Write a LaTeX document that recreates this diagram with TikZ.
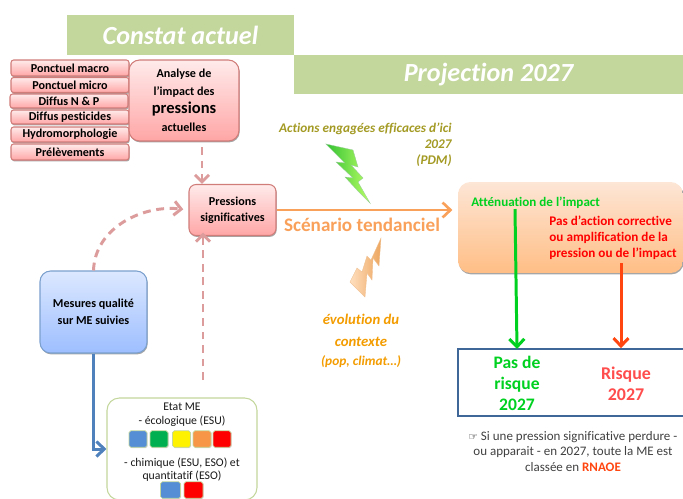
\documentclass[tikz,border=0pt]{standalone}
\usepackage{fontspec}
\setmainfont{Carlito}[Ligatures=NoCommon]
\newfontfamily\symfont{DejaVu Sans}
\usetikzlibrary{arrows.meta, shadows}

\definecolor{bannergreen}{HTML}{C3D69B}
\definecolor{pressline}{HTML}{DD9C9C}
\definecolor{pressborder}{HTML}{C0504D}
\definecolor{measureblue}{HTML}{4F81BD}
\definecolor{measuretop}{HTML}{DCE8FF}
\definecolor{measurelow}{HTML}{9DBEFF}
\definecolor{impacttop}{HTML}{FDE6D6}
\definecolor{impactlow}{HTML}{FFBE85}
\definecolor{scenario}{HTML}{F9A05A}
\definecolor{okgreen}{HTML}{00D020}
\definecolor{riskred}{HTML}{FF4510}
\definecolor{olivetext}{HTML}{A39A24}
\definecolor{contexttext}{HTML}{F39C00}
\definecolor{notetext}{HTML}{404040}
\definecolor{keyblue}{HTML}{558ED5}
\definecolor{keygreen}{HTML}{00B050}
\definecolor{keyorange}{HTML}{F79646}

\tikzset{
    banner/.style={fill=bannergreen, text=white, inner sep=0pt, font=\fontsize{14.9}{18}\selectfont\bfseries\itshape},
    softshadow/.style={drop shadow={shadow xshift=0.4pt, shadow yshift=-0.8pt, opacity=0.35, fill=black}},
    pressbox/.style={draw=pressborder!75, semithick, top color=red!8, bottom color=red!35, softshadow, inner sep=0pt, align=center, rounded corners=1.5pt, font=\fontsize{6.9}{8}\selectfont\bfseries},
    bigpress/.style={pressbox, rounded corners=6pt},
    measurebox/.style={draw=measureblue!75, semithick, top color=measuretop, bottom color=measurelow, softshadow, rounded corners=6pt, inner sep=0pt, align=center, font=\fontsize{6.9}{9.6}\selectfont\bfseries},
    colourkey/.style={draw=bannergreen, rounded corners=1pt, inner sep=0pt, minimum width=0.36cm, minimum height=0.33cm, drop shadow={shadow xshift=0.4pt, shadow yshift=-0.5pt, opacity=0.3}},
    pressarrow/.style={pressline, line width=1.7pt, dash pattern=on 4.5pt off 3.2pt, -{Straight Barb[length=4pt, width=8pt]}},
    flowarrow/.style={line width=1.7pt, -{Straight Barb[length=4.5pt, width=8.5pt]}},
}

\begin{document}
\begin{tikzpicture}[x=0.02cm, y=-0.02cm]
    \useasboundingbox (0, 0) rectangle (683, 498);
    \clip (0, 0) rectangle (683, 498);

    % Title bands
    \node[banner, minimum width=4.54cm, minimum height=0.8cm] (constat) at (180.5, 35) {Constat actuel};
    \node[banner, minimum width=7.78cm, minimum height=0.78cm, text height=11pt, text depth=3pt] (projection) at (488.5, 74.5) {Projection 2027};

    % Pressure list
    \node[pressbox, minimum width=2.36cm, minimum height=0.32cm] (macro) at (70, 68) {Ponctuel macro};
    \node[pressbox, minimum width=2.36cm, minimum height=0.3cm] (micro) at (70, 85) {Ponctuel micro};
    \node[pressbox, minimum width=2.36cm, minimum height=0.28cm] (azote) at (69, 101) {Diffus N \& P};
    \node[pressbox, minimum width=2.36cm, minimum height=0.28cm] (pesticides) at (70, 117) {Diffus pesticides};
    \node[pressbox, minimum width=2.36cm, minimum height=0.3cm] (hydro) at (70, 134.5) {Hydromorphologie};
    \node[pressbox, minimum width=2.36cm, minimum height=0.32cm] (prelev) at (70, 152) {Prélèvements};

    % Analysis and significant pressures
    \node[bigpress, minimum width=2.2cm, minimum height=1.62cm] (analyse) at (184, 100.5) {Analyse de\\[2.2pt]l’impact des\\[2.4pt]{\fontsize{9.4}{10}\selectfont pressions}\\[2.4pt]actuelles};
    \node[bigpress, rounded corners=4pt, minimum width=1.74cm, minimum height=1.02cm] (pressions) at (232.5, 210) {Pressions\\[1.2pt]significatives};

    % Measures and state of the water body
    \node[measurebox, minimum width=2.14cm, minimum height=1.64cm] (mesures) at (93.5, 312) {Mesures qualité\\sur ME suivies};
    \node[draw=bannergreen, semithick, fill=white, rounded corners=7pt, minimum width=3cm, minimum height=2.04cm] (etat) at (182, 449) {};
    \node[inner sep=0pt, align=center, font=\fontsize{6.7}{7.9}\selectfont, text=black!90] (etattop) at (182, 415) {Etat ME\\- écologique (ESU)};
    \node[inner sep=0pt, align=center, font=\fontsize{6.7}{7.7}\selectfont, text=black!90] (etatlow) at (182, 469.5) {- chimique (ESU, ESO) et\\quantitatif (ESO)};

    % Colour keys
    \node[colourkey, fill=keyblue] (keya) at (138, 439) {};
    \node[colourkey, fill=keygreen] (keyb) at (159, 439) {};
    \node[colourkey, fill=yellow] (keyc) at (181.5, 439) {};
    \node[colourkey, fill=keyorange] (keyd) at (202, 439) {};
    \node[colourkey, fill=red] (keye) at (222, 439) {};
    \node[colourkey, fill=keyblue, minimum width=0.4cm] (keyf) at (170.5, 490) {};
    \node[colourkey, fill=red, minimum width=0.38cm] (keyg) at (193.5, 490) {};

    % Dashed links to the significant pressures
    \coordinate (analyseout) at (202, 147);
    \coordinate (etatout) at (203, 380);
    \draw[pressarrow] (analyseout) -- (analyseout |- pressions.north);
    \draw[pressarrow] (etatout) -- ([yshift=2pt] etatout |- pressions.south);
    \draw[pressarrow, shorten >=3pt] (mesures.north) to[out=88, in=173] (pressions.west);

    % Measures feed the state
    \draw[flowarrow, measureblue] (mesures.south) |- (etat.west);

    % Trend scenario
    \node[draw=none, top color=impacttop, bottom color=impactlow, softshadow, rounded corners=7pt, minimum width=4.5cm, minimum height=1.82cm] (impact) at (570.5, 227.5) {};
    \draw[flowarrow, scenario, line width=1.5pt, shorten >=3pt] (pressions.east) -- (pressions.east -| impact.west);
    \node[text=scenario, inner sep=0pt, font=\fontsize{10.9}{12}\selectfont\bfseries] (tendanciel) at (362, 224.5) {Scénario tendanciel};

    % Actions and context
    \node[text=olivetext, inner sep=0pt, align=right, anchor=north east, font=\fontsize{7.55}{8.9}\selectfont\bfseries\itshape] (actions) at (452, 123) {Actions engagées efficaces d’ici\\2027\\(PDM)};
    \node[text=contexttext, inner sep=0pt, align=center, anchor=north, font=\fontsize{8.4}{12.4}\selectfont\bfseries\itshape] (contexte) at (361, 314) {évolution du\\contexte\\[-1.4pt]{\fontsize{7.6}{8}\selectfont(pop, climat…)}};

    % Lightning bolts
    \shade[left color=green!70!black!80, right color=green!45!yellow!60, draw=green!50!black!40, very thin]
        (326, 144) -- (353, 150) -- (358, 167) -- (351, 165) -- (363, 178) -- (358, 182) -- (370, 203)
        -- (357, 190) -- (345, 177) -- (353, 178) -- (336, 162) -- (345, 163) -- cycle;
    \shade[left color=orange!25, right color=orange!60!brown!70, draw=orange!50!brown!50, very thin]
        (381, 238) -- (379, 266) -- (373, 258) -- (372, 280) -- (367, 273) -- (365, 297)
        -- (350, 282) -- (357, 268) -- (362, 272) -- (367, 256) -- (371, 260) -- cycle;

    % Impact texts
    \node[text=okgreen, inner sep=0pt, anchor=west, font=\fontsize{7.45}{8}\selectfont\bfseries] (attenuation) at (471, 203) {Atténuation de l’impact};
    \node[text=red, inner sep=0pt, anchor=north west, align=left, font=\fontsize{7.5}{9.1}\selectfont\bfseries] (correction) at (549, 216) {Pas d’action corrective\\ou amplification de la\\pression ou de l’impact};

    % Result box
    \node[draw=measureblue!80!black, line width=1.2pt, minimum width=4.8cm, minimum height=1.33cm] (risquebox) at (578, 382.5) {};
    \node[text=okgreen, inner sep=0pt, align=center, font=\fontsize{10}{12}\selectfont\bfseries] (pasrisque) at (517, 383) {Pas de\\risque\\2027};
    \node[text=red!70!white, inner sep=0pt, align=center, font=\fontsize{10.2}{12}\selectfont\bfseries] (risque) at (626, 383.5) {Risque\\2027};

    % Outcome arrows
    \coordinate (greenout) at (515, 209);
    \coordinate (redout) at (621, 263);
    \coordinate (greenin) at (517, 349);
    \draw[flowarrow, okgreen] (greenout) -- (greenin);
    \draw[flowarrow, riskred] (redout) -- (redout |- risquebox.north);

    % Note
    \node[text=notetext, inner sep=0pt, align=center, font=\fontsize{7.4}{8.9}\selectfont] (note) at (573, 451.5) {{\symfont\fontsize{6}{8}\selectfont\color{black} ☞} Si une pression significative perdure -\\ou apparait - en 2027, toute la ME est\\classée en {\color{riskred}\bfseries RNAOE}};
\end{tikzpicture}
\end{document}
